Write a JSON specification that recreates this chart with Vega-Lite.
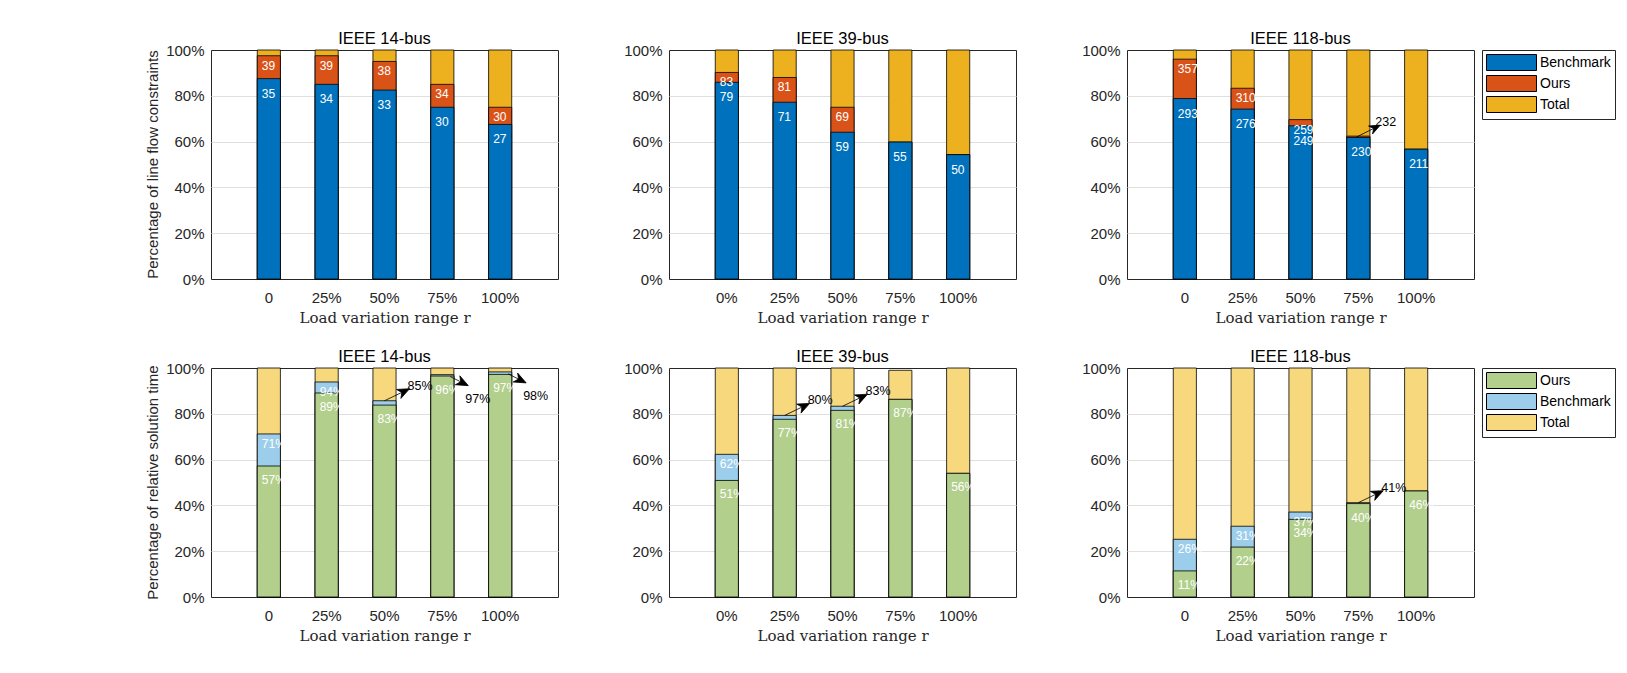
{
  "$schema": "https://vega.github.io/schema/vega-lite/v6.json",
  "background": "white",
  "padding": {"left": 145, "top": 30, "right": 0, "bottom": 0},
  "config": {
    "font": "Liberation Sans",
    "view": {"stroke": "#262626", "strokeWidth": 1},
    "axis": {"labelFont": "Liberation Sans", "labelFontSize": 15, "labelColor": "#262626", "ticks": false, "tickSize": 0, "domain": false},
    "axisY": {"grid": true, "gridColor": "#dfdfdf", "labelPadding": 7},
    "axisX": {"grid": false, "labelAngle": 0, "labelPadding": 11, "titleFont": "DejaVu Serif", "titleFontSize": 15, "titleFontWeight": "normal", "titleColor": "#262626", "titlePadding": 5},
    "header": {"labelFont": "Liberation Sans"},
    "legend": {
      "title": null, "orient": "right", "offset": 7, "padding": 4,
      "strokeColor": "#262626", "fillColor": "white",
      "labelFontSize": 14, "labelColor": "black", "labelFont": "Liberation Sans",
      "symbolType": "M-1,-1H5.25V1H-1Z", "symbolSize": 256,
      "symbolStrokeColor": "black", "symbolStrokeWidth": 1, "symbolOpacity": 1,
      "rowPadding": 0, "labelOffset": 37
    }
  },
  "datasets": {
    "line": [
      {"sys": "IEEE 14-bus", "r": 1, "rl": "0", "s": "Total", "v": 100},
      {"sys": "IEEE 14-bus", "r": 1, "rl": "0", "s": "Ours", "v": 97.5, "lab": "39"},
      {"sys": "IEEE 14-bus", "r": 1, "rl": "0", "s": "Benchmark", "v": 87.5, "lab": "35"},
      {"sys": "IEEE 14-bus", "r": 2, "rl": "25%", "s": "Total", "v": 100},
      {"sys": "IEEE 14-bus", "r": 2, "rl": "25%", "s": "Ours", "v": 97.5, "lab": "39"},
      {"sys": "IEEE 14-bus", "r": 2, "rl": "25%", "s": "Benchmark", "v": 85, "lab": "34"},
      {"sys": "IEEE 14-bus", "r": 3, "rl": "50%", "s": "Total", "v": 100},
      {"sys": "IEEE 14-bus", "r": 3, "rl": "50%", "s": "Ours", "v": 95, "lab": "38"},
      {"sys": "IEEE 14-bus", "r": 3, "rl": "50%", "s": "Benchmark", "v": 82.5, "lab": "33"},
      {"sys": "IEEE 14-bus", "r": 4, "rl": "75%", "s": "Total", "v": 100},
      {"sys": "IEEE 14-bus", "r": 4, "rl": "75%", "s": "Ours", "v": 85, "lab": "34"},
      {"sys": "IEEE 14-bus", "r": 4, "rl": "75%", "s": "Benchmark", "v": 75, "lab": "30"},
      {"sys": "IEEE 14-bus", "r": 5, "rl": "100%", "s": "Total", "v": 100},
      {"sys": "IEEE 14-bus", "r": 5, "rl": "100%", "s": "Ours", "v": 75, "lab": "30"},
      {"sys": "IEEE 14-bus", "r": 5, "rl": "100%", "s": "Benchmark", "v": 67.5, "lab": "27"},
      {"sys": "IEEE 39-bus", "r": 1, "rl": "0%", "s": "Total", "v": 100},
      {"sys": "IEEE 39-bus", "r": 1, "rl": "0%", "s": "Ours", "v": 90.2, "lab": "83"},
      {"sys": "IEEE 39-bus", "r": 1, "rl": "0%", "s": "Benchmark", "v": 85.9, "lab": "79"},
      {"sys": "IEEE 39-bus", "r": 2, "rl": "25%", "s": "Total", "v": 100},
      {"sys": "IEEE 39-bus", "r": 2, "rl": "25%", "s": "Ours", "v": 88.0, "lab": "81"},
      {"sys": "IEEE 39-bus", "r": 2, "rl": "25%", "s": "Benchmark", "v": 77.2, "lab": "71"},
      {"sys": "IEEE 39-bus", "r": 3, "rl": "50%", "s": "Total", "v": 100},
      {"sys": "IEEE 39-bus", "r": 3, "rl": "50%", "s": "Ours", "v": 75.0, "lab": "69"},
      {"sys": "IEEE 39-bus", "r": 3, "rl": "50%", "s": "Benchmark", "v": 64.1, "lab": "59"},
      {"sys": "IEEE 39-bus", "r": 4, "rl": "75%", "s": "Total", "v": 100},
      {"sys": "IEEE 39-bus", "r": 4, "rl": "75%", "s": "Ours", "v": 59.8},
      {"sys": "IEEE 39-bus", "r": 4, "rl": "75%", "s": "Benchmark", "v": 59.8, "lab": "55"},
      {"sys": "IEEE 39-bus", "r": 5, "rl": "100%", "s": "Total", "v": 100},
      {"sys": "IEEE 39-bus", "r": 5, "rl": "100%", "s": "Ours", "v": 54.3},
      {"sys": "IEEE 39-bus", "r": 5, "rl": "100%", "s": "Benchmark", "v": 54.3, "lab": "50"},
      {"sys": "IEEE 118-bus", "r": 1, "rl": "0", "s": "Total", "v": 100},
      {"sys": "IEEE 118-bus", "r": 1, "rl": "0", "s": "Ours", "v": 96.0, "lab": "357"},
      {"sys": "IEEE 118-bus", "r": 1, "rl": "0", "s": "Benchmark", "v": 78.8, "lab": "293"},
      {"sys": "IEEE 118-bus", "r": 2, "rl": "25%", "s": "Total", "v": 100},
      {"sys": "IEEE 118-bus", "r": 2, "rl": "25%", "s": "Ours", "v": 83.3, "lab": "310"},
      {"sys": "IEEE 118-bus", "r": 2, "rl": "25%", "s": "Benchmark", "v": 74.2, "lab": "276"},
      {"sys": "IEEE 118-bus", "r": 3, "rl": "50%", "s": "Total", "v": 100},
      {"sys": "IEEE 118-bus", "r": 3, "rl": "50%", "s": "Ours", "v": 69.6, "lab": "259"},
      {"sys": "IEEE 118-bus", "r": 3, "rl": "50%", "s": "Benchmark", "v": 66.9, "lab": "249"},
      {"sys": "IEEE 118-bus", "r": 4, "rl": "75%", "s": "Total", "v": 100},
      {"sys": "IEEE 118-bus", "r": 4, "rl": "75%", "s": "Ours", "v": 62.4, "note": "232"},
      {"sys": "IEEE 118-bus", "r": 4, "rl": "75%", "s": "Benchmark", "v": 61.8, "lab": "230"},
      {"sys": "IEEE 118-bus", "r": 5, "rl": "100%", "s": "Total", "v": 100},
      {"sys": "IEEE 118-bus", "r": 5, "rl": "100%", "s": "Ours", "v": 56.7},
      {"sys": "IEEE 118-bus", "r": 5, "rl": "100%", "s": "Benchmark", "v": 56.7, "lab": "211"}
    ],
    "time": [
      {"sys": "IEEE 14-bus", "r": 1, "rl": "0", "s": "Total", "v": 100},
      {"sys": "IEEE 14-bus", "r": 1, "rl": "0", "s": "Benchmark", "v": 71.2, "lab": "71%"},
      {"sys": "IEEE 14-bus", "r": 1, "rl": "0", "s": "Ours", "v": 57.2, "lab": "57%"},
      {"sys": "IEEE 14-bus", "r": 2, "rl": "25%", "s": "Total", "v": 100},
      {"sys": "IEEE 14-bus", "r": 2, "rl": "25%", "s": "Benchmark", "v": 93.9, "lab": "94%"},
      {"sys": "IEEE 14-bus", "r": 2, "rl": "25%", "s": "Ours", "v": 89.1, "lab": "89%"},
      {"sys": "IEEE 14-bus", "r": 3, "rl": "50%", "s": "Total", "v": 100},
      {"sys": "IEEE 14-bus", "r": 3, "rl": "50%", "s": "Benchmark", "v": 85.7, "note": "85%"},
      {"sys": "IEEE 14-bus", "r": 3, "rl": "50%", "s": "Ours", "v": 83.8, "lab": "83%"},
      {"sys": "IEEE 14-bus", "r": 4, "rl": "75%", "s": "Total", "v": 100},
      {"sys": "IEEE 14-bus", "r": 4, "rl": "75%", "s": "Benchmark", "v": 97.1, "note": "97%"},
      {"sys": "IEEE 14-bus", "r": 4, "rl": "75%", "s": "Ours", "v": 96.5, "lab": "96%"},
      {"sys": "IEEE 14-bus", "r": 5, "rl": "100%", "s": "Total", "v": 100},
      {"sys": "IEEE 14-bus", "r": 5, "rl": "100%", "s": "Benchmark", "v": 98.3, "note": "98%"},
      {"sys": "IEEE 14-bus", "r": 5, "rl": "100%", "s": "Ours", "v": 97.2, "lab": "97%"},
      {"sys": "IEEE 39-bus", "r": 1, "rl": "0%", "s": "Total", "v": 100},
      {"sys": "IEEE 39-bus", "r": 1, "rl": "0%", "s": "Benchmark", "v": 62.3, "lab": "62%"},
      {"sys": "IEEE 39-bus", "r": 1, "rl": "0%", "s": "Ours", "v": 50.9, "lab": "51%"},
      {"sys": "IEEE 39-bus", "r": 2, "rl": "25%", "s": "Total", "v": 100},
      {"sys": "IEEE 39-bus", "r": 2, "rl": "25%", "s": "Benchmark", "v": 79.3, "note": "80%"},
      {"sys": "IEEE 39-bus", "r": 2, "rl": "25%", "s": "Ours", "v": 77.6, "lab": "77%"},
      {"sys": "IEEE 39-bus", "r": 3, "rl": "50%", "s": "Total", "v": 100},
      {"sys": "IEEE 39-bus", "r": 3, "rl": "50%", "s": "Benchmark", "v": 83.3, "note": "83%"},
      {"sys": "IEEE 39-bus", "r": 3, "rl": "50%", "s": "Ours", "v": 81.5, "lab": "81%"},
      {"sys": "IEEE 39-bus", "r": 4, "rl": "75%", "s": "Total", "v": 99},
      {"sys": "IEEE 39-bus", "r": 4, "rl": "75%", "s": "Benchmark", "v": 86.3},
      {"sys": "IEEE 39-bus", "r": 4, "rl": "75%", "s": "Ours", "v": 86.3, "lab": "87%"},
      {"sys": "IEEE 39-bus", "r": 5, "rl": "100%", "s": "Total", "v": 100},
      {"sys": "IEEE 39-bus", "r": 5, "rl": "100%", "s": "Benchmark", "v": 54.0},
      {"sys": "IEEE 39-bus", "r": 5, "rl": "100%", "s": "Ours", "v": 54.0, "lab": "56%"},
      {"sys": "IEEE 118-bus", "r": 1, "rl": "0", "s": "Total", "v": 100},
      {"sys": "IEEE 118-bus", "r": 1, "rl": "0", "s": "Benchmark", "v": 25.2, "lab": "26%"},
      {"sys": "IEEE 118-bus", "r": 1, "rl": "0", "s": "Ours", "v": 11.4, "lab": "11%"},
      {"sys": "IEEE 118-bus", "r": 2, "rl": "25%", "s": "Total", "v": 100},
      {"sys": "IEEE 118-bus", "r": 2, "rl": "25%", "s": "Benchmark", "v": 30.9, "lab": "31%"},
      {"sys": "IEEE 118-bus", "r": 2, "rl": "25%", "s": "Ours", "v": 21.8, "lab": "22%"},
      {"sys": "IEEE 118-bus", "r": 3, "rl": "50%", "s": "Total", "v": 100},
      {"sys": "IEEE 118-bus", "r": 3, "rl": "50%", "s": "Benchmark", "v": 37.1, "lab": "37%"},
      {"sys": "IEEE 118-bus", "r": 3, "rl": "50%", "s": "Ours", "v": 33.9, "lab": "34%"},
      {"sys": "IEEE 118-bus", "r": 4, "rl": "75%", "s": "Total", "v": 100},
      {"sys": "IEEE 118-bus", "r": 4, "rl": "75%", "s": "Benchmark", "v": 41.2, "note": "41%"},
      {"sys": "IEEE 118-bus", "r": 4, "rl": "75%", "s": "Ours", "v": 40.8, "lab": "40%"},
      {"sys": "IEEE 118-bus", "r": 5, "rl": "100%", "s": "Total", "v": 100},
      {"sys": "IEEE 118-bus", "r": 5, "rl": "100%", "s": "Benchmark", "v": 46.3},
      {"sys": "IEEE 118-bus", "r": 5, "rl": "100%", "s": "Ours", "v": 46.3, "lab": "46%"}
    ]
  },
  "vconcat": [
    {
      "data": {"name": "line"},
      "facet": {
        "row": {"field": "grp", "title": null, "header": {"labelExpr": "'Percentage of line flow constraints'", "labelFontSize": 15, "labelColor": "#262626", "labelPadding": 4}},
        "column": {"field": "sys", "title": null, "sort": ["IEEE 14-bus", "IEEE 39-bus", "IEEE 118-bus"], "header": {"labelFontSize": 16.5, "labelColor": "black", "labelPadding": -5}}
      },
      "spacing": {"column": 64, "row": 0},
      "resolve": {"scale": {"x": "independent"}, "axis": {"x": "independent", "y": "independent"}},
      "spec": {
        "width": 347,
        "height": 229,
        "view": {"stroke": "#262626", "strokeWidth": 1},
        "encoding": {
          "x": {"field": "rl", "type": "nominal", "sort": {"field": "r", "op": "min"}, "scale": {"paddingInner": 0.6, "paddingOuter": 0.8}, "axis": {"title": "Load variation range r"}},
          "y": {"field": "v", "type": "quantitative", "stack": null, "scale": {"domain": [0, 100], "nice": false}, "axis": {"title": null, "values": [0, 20, 40, 60, 80, 100], "labelExpr": "datum.value + '%'", "gridOpacity": {"condition": {"test": "datum.value == 0 || datum.value == 100", "value": 0}, "value": 1}}}
        },
        "layer": [
          {
            "mark": {"type": "bar", "stroke": "black", "strokeWidth": 0.8},
            "encoding": {
              "color": {"field": "s", "type": "nominal", "scale": {"domain": ["Benchmark", "Ours", "Total"], "range": ["#0072BD", "#D95319", "#EDB120"]}}
            }
          },
          {
            "transform": [{"filter": "datum.lab && datum.s == 'Benchmark'"}],
            "mark": {"type": "text", "color": "white", "fontSize": 12, "align": "left", "baseline": "middle", "dx": -7, "dy": 15},
            "encoding": {"text": {"field": "lab"}}
          },
          {
            "transform": [{"filter": "datum.lab && datum.s == 'Ours'"}],
            "mark": {"type": "text", "color": "white", "fontSize": 12, "align": "left", "baseline": "middle", "dx": -7, "dy": 10},
            "encoding": {"text": {"field": "lab"}}
          },
          {
            "transform": [{"filter": "datum.note"}],
            "mark": {"type": "point", "shape": "M-2,1L15.3,-7.65M22,-11L10.2,-10.1L15.3,-7.65L14.2,-2.1Z", "size": 4, "filled": true, "fill": "black", "stroke": "black", "strokeWidth": 0.8, "opacity": 1}
          },
          {
            "transform": [{"filter": "datum.note"}],
            "mark": {"type": "text", "color": "black", "fontSize": 12.5, "align": "left", "baseline": "middle", "dx": 17, "dy": -14},
            "encoding": {"text": {"field": "note"}}
          }
        ]
      }
    },
    {
      "data": {"name": "time"},
      "facet": {
        "row": {"field": "grp", "title": null, "header": {"labelExpr": "'Percentage of relative solution time'", "labelFontSize": 15, "labelColor": "#262626", "labelPadding": 4}},
        "column": {"field": "sys", "title": null, "sort": ["IEEE 14-bus", "IEEE 39-bus", "IEEE 118-bus"], "header": {"labelFontSize": 16.5, "labelColor": "black", "labelPadding": -5}}
      },
      "spacing": {"column": 64, "row": 0},
      "resolve": {"scale": {"x": "independent"}, "axis": {"x": "independent", "y": "independent"}},
      "spec": {
        "width": 347,
        "height": 229,
        "view": {"stroke": "#262626", "strokeWidth": 1},
        "encoding": {
          "x": {"field": "rl", "type": "nominal", "sort": {"field": "r", "op": "min"}, "scale": {"paddingInner": 0.6, "paddingOuter": 0.8}, "axis": {"title": "Load variation range r"}},
          "y": {"field": "v", "type": "quantitative", "stack": null, "scale": {"domain": [0, 100], "nice": false}, "axis": {"title": null, "values": [0, 20, 40, 60, 80, 100], "labelExpr": "datum.value + '%'", "gridOpacity": {"condition": {"test": "datum.value == 0 || datum.value == 100", "value": 0}, "value": 1}}}
        },
        "layer": [
          {
            "mark": {"type": "bar", "stroke": "black", "strokeWidth": 0.8},
            "encoding": {
              "color": {"field": "s", "type": "nominal", "scale": {"domain": ["Ours", "Benchmark", "Total"], "range": ["#B2CF8C", "#9CCEEB", "#F7D87C"]}}
            }
          },
          {
            "transform": [{"filter": "datum.lab && datum.s == 'Ours'"}],
            "mark": {"type": "text", "color": "white", "fontSize": 12, "align": "left", "baseline": "middle", "dx": -7, "dy": 14},
            "encoding": {"text": {"field": "lab"}}
          },
          {
            "transform": [{"filter": "datum.lab && datum.s == 'Benchmark'"}],
            "mark": {"type": "text", "color": "white", "fontSize": 12, "align": "left", "baseline": "middle", "dx": -7, "dy": 10},
            "encoding": {"text": {"field": "lab"}}
          },
          {
            "transform": [{"filter": "datum.note && indexof(['97%', '98%'], datum.note) < 0"}],
            "mark": {"type": "point", "shape": "M0,0L17.3,-8.3M25,-12L12,-11.3L17.3,-8.3L16.4,-2.3Z", "size": 4, "filled": true, "fill": "black", "stroke": "black", "strokeWidth": 0.8, "opacity": 1}
          },
          {
            "transform": [{"filter": "datum.note && indexof(['97%', '98%'], datum.note) < 0"}],
            "mark": {"type": "text", "color": "black", "fontSize": 12.5, "align": "left", "baseline": "middle", "dx": 23, "dy": -15},
            "encoding": {"text": {"field": "note"}}
          },
          {
            "transform": [{"filter": "indexof(['97%', '98%'], datum.note) >= 0"}],
            "mark": {"type": "point", "shape": "M8,2L18.4,7.2M26,11L13,10.1L18.4,7.2L17.5,1.2Z", "size": 4, "filled": true, "fill": "black", "stroke": "black", "strokeWidth": 0.8, "opacity": 1}
          },
          {
            "transform": [{"filter": "indexof(['97%', '98%'], datum.note) >= 0"}],
            "mark": {"type": "text", "color": "black", "fontSize": 12.5, "align": "left", "baseline": "middle", "dx": 23, "dy": 24},
            "encoding": {"text": {"field": "note"}}
          }
        ]
      }
    }
  ],
  "spacing": 22,
  "resolve": {"scale": {"color": "independent"}}
}
